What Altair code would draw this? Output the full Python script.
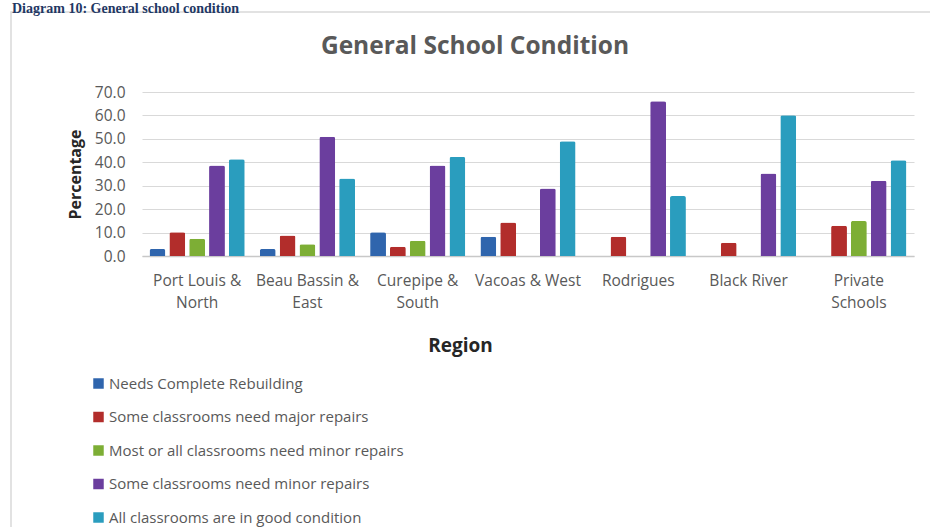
import altair as alt
import pandas as pd

regions = ["Port Louis &\nNorth", "Beau Bassin &\nEast", "Curepipe &\nSouth",
           "Vacoas & West", "Rodrigues", "Black River", "Private\nSchools"]
series = ["Needs Complete Rebuilding", "Some classrooms need major repairs",
          "Most or all classrooms need minor repairs", "Some classrooms need minor repairs",
          "All classrooms are in good condition"]
colors = ["#2F65AD", "#B22D2B", "#7DAE35", "#6B3E9E", "#2A9DBE"]

needs_rebuilding = [3.0, 3.0, 10.1, 8.2, None, None, None]
major_repairs = [10.1, 8.8, 4.0, 14.3, 8.2, 5.7, 12.9]
most_minor = [7.4, 5.0, 6.5, None, None, None, 14.9]
some_minor = [38.6, 50.9, 38.6, 28.8, 66.0, 35.2, 32.1]
good_condition = [41.3, 33.1, 42.3, 49.0, 25.6, 60.1, 40.9]

y_ticks = [0, 10, 20, 30, 40, 50, 60, 70]
heading = "Diagram 10: General school condition"
chart_title = "General School Condition"

rows = []
for s, vals in zip(series, [needs_rebuilding, major_repairs, most_minor, some_minor, good_condition]):
    for r, v in zip(regions, vals):
        if v is not None:
            rows.append({"Region": r, "Series": s, "Value": v})
df = pd.DataFrame(rows)

FONT = "Open Sans"

bars = alt.Chart(df).mark_bar(cornerRadiusTopLeft=2, cornerRadiusTopRight=2).encode(
    x=alt.X("Region:N", sort=regions,
            scale=alt.Scale(paddingInner=0, paddingOuter=0),
            axis=alt.Axis(title="Region", labelExpr="split(datum.label, '\\n')", labelAngle=0,
                          labelFont=FONT, labelFontSize=15.5, labelColor="#595959",
                          labelLineHeight=22, labelPadding=17, ticks=False,
                          domainColor="#C8C8C8", domainWidth=1.5,
                          titleFont=FONT, titleFontSize=19, titleFontWeight="bold",
                          titleColor="#262626", titleX=318, titleY=89, titleBaseline="middle")),
    xOffset=alt.XOffset("Series:N", sort=series,
                        scale=alt.Scale(paddingInner=0.2, paddingOuter=0.38)),
    y=alt.Y("Value:Q", scale=alt.Scale(domain=[0, 70], nice=False),
            axis=alt.Axis(title="Percentage", values=y_ticks, format=".1f", ticks=False,
                          domain=False, gridColor="#D9D9D9", labelPadding=17,
                          labelFont=FONT, labelFontSize=15.5, labelColor="#595959",
                          titleFont=FONT, titleFontSize=16, titleFontWeight="bold",
                          titleColor="#262626", titleAngle=270, titleX=-67, titleY=82,
                          titleAlign="center", titleBaseline="middle")),
    color=alt.Color("Series:N", sort=series,
                    scale=alt.Scale(domain=series, range=colors),
                    legend=alt.Legend(title=None, orient="none", legendX=-51, legendY=284,
                                      direction="vertical", symbolType="square",
                                      symbolSize=110, symbolStrokeWidth=0,
                                      labelFont=FONT, labelFontSize=15, labelColor="#595959",
                                      labelOffset=3, rowPadding=17.5, labelLimit=400)),
)

frame = alt.Chart(pd.DataFrame({"k": [0]})).mark_rect(
    fillOpacity=0, stroke="#D9D9D9", strokeWidth=1.5
).encode(x=alt.value(-131), x2=alt.value(800), y=alt.value(-80), y2=alt.value(460))

head = alt.Chart(pd.DataFrame({"t": [heading]})).mark_text(
    align="left", baseline="alphabetic", font="Liberation Serif", fontWeight="bold",
    fontSize=14, color="#1F3864"
).encode(x=alt.value(-130), y=alt.value(-79), text="t:N")

title = alt.Chart(pd.DataFrame({"t": [chart_title]})).mark_text(
    align="center", baseline="middle", font=FONT, fontWeight="bold",
    fontSize=24.5, color="#595959"
).encode(x=alt.value(333), y=alt.value(-45), text="t:N")

chart = alt.layer(frame, head, title, bars).properties(
    width=772, height=164,
    padding={"left": 142, "top": 92, "right": 16, "bottom": 271},
    autosize=alt.AutoSizeParams(type="none"),
).configure_view(stroke=None)

chart.save("out.html", embed_options={"renderer": "svg", "actions": False})
